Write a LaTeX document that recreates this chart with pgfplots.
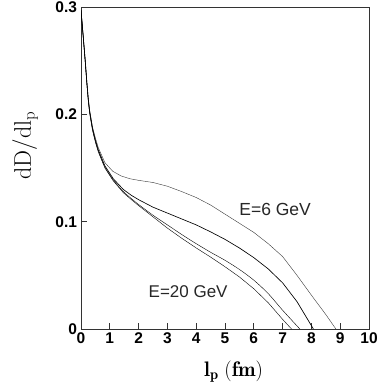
\documentclass[border=0pt]{standalone}
\usepackage{pgfplots}
\pgfplotsset{compat=1.18}
\usepackage{fontspec}
\newfontfamily\hv{Liberation Sans}
\definecolor{crv}{gray}{0.22}
\begin{document}
\begin{tikzpicture}
\begin{axis}[
  scale only axis,
  width=288pt, height=322pt,
  xmin=0, xmax=10, ymin=0, ymax=0.3,
  xtick={0,1,...,10},
  ytick={0,0.1,0.2,0.3},
  yticklabels={0,0.1,0.2,0.3},
  xtick pos=left, ytick pos=left,
  tick align=inside,
  major tick length=6pt,
  axis line style={line width=0.9pt, black!80},
  every tick/.style={line width=0.8pt, black!80},
  /pgf/number format/assume math mode=true,
  ticklabel style={font=\hv\bfseries\fontsize{15.5}{17}\selectfont},
  xticklabel style={yshift=-0.5pt},
  yticklabel style={xshift=-0.5pt},
  xlabel={$\mathbf{l_p\;(fm)}$},
  ylabel={$\mathrm{dD/dl_p}$},
  xlabel style={font=\fontsize{21}{24}\selectfont, at={(axis description cs:0.53,-0.133)}, anchor=center},
  ylabel style={font=\fontsize{24}{27}\selectfont, at={(axis description cs:-0.194,0.57)}, anchor=center},
  cycle list={{crv, line width=0.65pt, smooth, tension=0.45, no markers}},
  clip=true,
]
% E = 6 GeV (top)
\addplot coordinates {
(0,0.297)(0.05,0.282)(0.1,0.266)(0.15,0.250)(0.2,0.232)(0.25,0.216)(0.3,0.204)(0.4,0.188)(0.5,0.178)(0.6,0.169)(0.83,0.155)(1.1,0.147)(1.4,0.1425)(1.7,0.140)(2.0,0.1385)(2.5,0.1365)(3.0,0.133)(3.5,0.128)(4.0,0.1225)(4.5,0.1155)(5.0,0.107)(5.5,0.0985)(6.0,0.090)(6.5,0.0795)(7.0,0.0675)(7.5,0.050)(8.0,0.0315)(8.5,0.0135)(8.85,0)};
% second
\addplot coordinates {
(0,0.297)(0.05,0.281)(0.1,0.265)(0.15,0.249)(0.2,0.231)(0.25,0.215)(0.3,0.203)(0.4,0.187)(0.5,0.176)(0.6,0.167)(0.83,0.152)(1.12,0.140)(1.47,0.130)(1.75,0.1245)(2.0,0.1205)(2.5,0.1135)(3.0,0.108)(3.5,0.1025)(4.0,0.097)(4.5,0.0905)(5.0,0.0835)(5.5,0.0755)(6.0,0.0665)(6.5,0.056)(7.0,0.043)(7.5,0.0255)(8.07,0)};
% third
\addplot coordinates {
(0,0.297)(0.05,0.281)(0.1,0.265)(0.15,0.248)(0.2,0.230)(0.25,0.214)(0.3,0.202)(0.4,0.186)(0.5,0.175)(0.6,0.166)(0.83,0.151)(1.12,0.139)(1.47,0.128)(1.75,0.1215)(2.0,0.116)(2.5,0.106)(3.0,0.097)(3.5,0.088)(4.0,0.0795)(4.5,0.0715)(5.0,0.064)(5.5,0.0555)(6.0,0.0455)(6.5,0.033)(7.0,0.0175)(7.6,0)};
% E = 20 GeV (lowest)
\addplot coordinates {
(0,0.297)(0.05,0.281)(0.1,0.264)(0.15,0.247)(0.2,0.229)(0.25,0.213)(0.3,0.201)(0.4,0.185)(0.5,0.174)(0.6,0.165)(0.83,0.150)(1.12,0.138)(1.47,0.127)(1.75,0.1205)(2.0,0.115)(2.5,0.1045)(3.0,0.094)(3.5,0.0845)(4.0,0.0755)(4.5,0.067)(5.0,0.058)(5.5,0.0485)(6.0,0.0375)(6.5,0.0245)(7.0,0.009)(7.31,0)};
\node[font=\hv\fontsize{17.5}{19}\selectfont, text=black!85] at (axis cs:6.74,0.111) {E=6 GeV};
\node[font=\hv\fontsize{17}{19}\selectfont, text=black!85] at (axis cs:3.72,0.0345) {E=20 GeV};
\end{axis}
\pgfresetboundingbox
\path[use as bounding box] (-81pt,-58pt) rectangle (304pt,329pt);
\end{tikzpicture}
\end{document}
